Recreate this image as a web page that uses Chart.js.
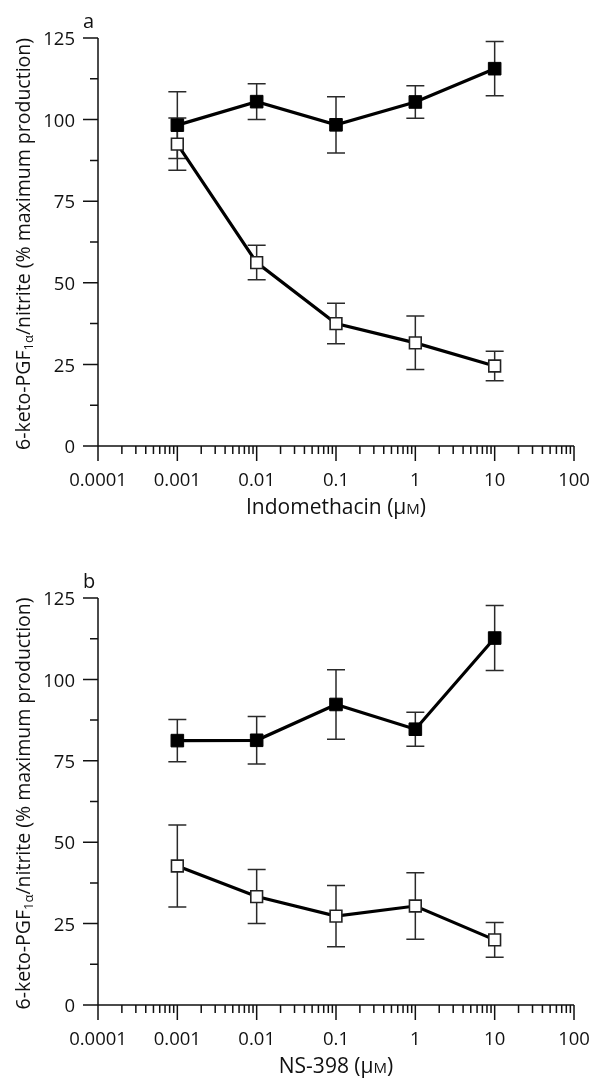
<!DOCTYPE html>
<html lang="en">
<head>
  <meta charset="UTF-8">
  <title>6-keto-PGF1α/nitrite vs inhibitor</title>
  <script src="https://cdn.jsdelivr.net/npm/chart.js"></script>
  <style>
    body {
      margin: 0;
      background: #fff;
    }
    canvas {
      display: block;
    }
  </style>
</head>
<body>
  <canvas id="chartA" width="591" height="540"></canvas>
  <canvas id="chartB" width="591" height="539"></canvas>

  <script>
    // Doses (µM), same for both panels
    const doses = [0.001, 0.01, 0.1, 1, 10];

    // Panel a: indomethacin
    const indoFilled = [98.3, 105.5, 98.4, 105.4, 115.6];
    const indoFilledErr = [10.2, 5.5, 8.6, 5.0, 8.3];
    const indoOpen = [92.5, 56.2, 37.5, 31.6, 24.5];
    const indoOpenErr = [8.0, 5.3, 6.2, 8.2, 4.5];

    // Panel b: NS-398
    const nsFilled = [81.2, 81.3, 92.3, 84.7, 112.7];
    const nsFilledErr = [6.5, 7.3, 10.7, 5.2, 10.0];
    const nsOpen = [42.7, 33.3, 27.3, 30.4, 20.0];
    const nsOpenErr = [12.6, 8.3, 9.4, 10.2, 5.3];

    // Axis ticks
    const xTickValues = [0.0001, 0.001, 0.01, 0.1, 1, 10, 100];
    const xTickLabels = ['0.0001', '0.001', '0.01', '0.1', '1', '10', '100'];
    const yTickValues = [0, 25, 50, 75, 100, 125];
    const yMinorValues = [12.5, 37.5, 62.5, 87.5, 112.5];

    const FONT = "'Open Sans', 'DejaVu Sans', sans-serif";
    const INK = '#111';

    // draw a row of text pieces (for subscripts / small caps)
    function drawRuns(ctx, runs, cx, baseY) {
      let total = 0;
      runs.forEach(r => {
        ctx.font = r.size + 'px ' + FONT;
        r.w = ctx.measureText(r.t).width;
        total += r.w;
      });
      let x = cx - total / 2;
      ctx.textAlign = 'left';
      ctx.textBaseline = 'alphabetic';
      runs.forEach(r => {
        ctx.font = r.size + 'px ' + FONT;
        ctx.fillText(r.t, x, baseY + (r.dy || 0));
        x += r.w;
      });
    }

    // error bars under the markers
    const errorBarPlugin = {
      id: 'errorBars',
      beforeDatasetsDraw(chart, args, opts) {
        const ctx = chart.ctx;
        const xs = chart.scales.x, ys = chart.scales.y;
        ctx.save();
        ctx.strokeStyle = '#2a2a2a';
        ctx.lineWidth = 1.5;
        chart.data.datasets.forEach((ds, i) => {
          const errs = opts.errs[i];
          ds.data.forEach((p, j) => {
            const px = xs.getPixelForValue(p.x);
            const top = ys.getPixelForValue(p.y + errs[j]);
            const bot = ys.getPixelForValue(p.y - errs[j]);
            ctx.beginPath();
            ctx.moveTo(px, top); ctx.lineTo(px, bot);
            ctx.moveTo(px - 9, top); ctx.lineTo(px + 9, top);
            ctx.moveTo(px - 9, bot); ctx.lineTo(px + 9, bot);
            ctx.stroke();
          });
        });
        ctx.restore();
      }
    };

    // axis lines, major/minor ticks, titles and panel letter
    const axesPlugin = {
      id: 'plotAxes',
      afterDraw(chart, args, opts) {
        const ctx = chart.ctx;
        const xs = chart.scales.x, ys = chart.scales.y;
        const x0 = xs.getPixelForValue(xTickValues[0]);
        const x1 = xs.getPixelForValue(xTickValues[xTickValues.length - 1]);
        const y0 = ys.getPixelForValue(yTickValues[0]);
        const y1 = ys.getPixelForValue(yTickValues[yTickValues.length - 1]);
        ctx.save();
        ctx.strokeStyle = INK;
        ctx.lineWidth = 1.5;
        ctx.beginPath();
        ctx.moveTo(x0, y0); ctx.lineTo(x1, y0);
        ctx.moveTo(x0, y0); ctx.lineTo(x0, y1);
        yTickValues.forEach(v => {
          const p = ys.getPixelForValue(v);
          ctx.moveTo(x0 - 15, p); ctx.lineTo(x0, p);
        });
        yMinorValues.forEach(v => {
          const p = ys.getPixelForValue(v);
          ctx.moveTo(x0 - 8, p); ctx.lineTo(x0, p);
        });
        xTickValues.forEach((v, k) => {
          const p = xs.getPixelForValue(v);
          ctx.moveTo(p, y0); ctx.lineTo(p, y0 + 15);
          if (k < xTickValues.length - 1) {
            for (let m = 2; m <= 9; m++) {
              const q = xs.getPixelForValue(v * m);
              ctx.moveTo(q, y0); ctx.lineTo(q, y0 + 8);
            }
          }
        });
        ctx.stroke();

        ctx.fillStyle = INK;
        // x title
        drawRuns(ctx, [
          { t: opts.xTitle + ' (\u03bc', size: 21 },
          { t: 'M', size: 15 },
          { t: ')', size: 21 }
        ], (x0 + x1) / 2, y0 + 68);

        // y title, rotated
        ctx.save();
        ctx.translate(30, (y0 + y1) / 2 + 2);
        ctx.rotate(-Math.PI / 2);
        drawRuns(ctx, [
          { t: '6-keto-PGF', size: 19.5 },
          { t: '1\u03b1', size: 13, dy: 3 },
          { t: '/nitrite (% maximum production)', size: 19.5 }
        ], 0, 0);
        ctx.restore();

        // panel letter
        ctx.font = '20px ' + FONT;
        ctx.textAlign = 'left';
        ctx.textBaseline = 'alphabetic';
        ctx.fillText(opts.letter, x0 - 15, y1 - 10);
        ctx.restore();
      }
    };

    function makeChart(id, filled, filledErr, open, openErr, xTitle, letter, topPad, xHeight) {
      const ctx = document.getElementById(id).getContext('2d');
      return new Chart(ctx, {
        type: 'line',
        data: {
          datasets: [
            {
              data: doses.map((d, i) => ({ x: d, y: filled[i] })),
              borderColor: '#000',
              borderWidth: 3.2,
              pointStyle: 'rect',
              pointRadius: 8.9,
              pointBackgroundColor: '#000',
              pointBorderColor: '#000',
              pointBorderWidth: 1,
              tension: 0
            },
            {
              data: doses.map((d, i) => ({ x: d, y: open[i] })),
              borderColor: '#000',
              borderWidth: 3.2,
              pointStyle: 'rect',
              pointRadius: 8.3,
              pointBackgroundColor: '#fff',
              pointBorderColor: '#222',
              pointBorderWidth: 1.6,
              tension: 0
            }
          ]
        },
        options: {
          responsive: false,
          animation: false,
          layout: { padding: { top: topPad, right: 17, left: 0, bottom: 0 } },
          plugins: {
            legend: { display: false },
            tooltip: { enabled: false },
            errorBars: { errs: [filledErr, openErr] },
            plotAxes: { xTitle: xTitle, letter: letter }
          },
          scales: {
            x: {
              type: 'logarithmic',
              min: 0.0001,
              max: 100,
              grid: { display: false, drawTicks: false },
              border: { display: false },
              afterBuildTicks: scale => {
                scale.ticks = xTickValues.map(v => ({ value: v, major: true }));
              },
              afterFit: scale => {
                scale.height = xHeight;
                scale.paddingLeft = 0;
                scale.paddingRight = 0;
              },
              ticks: {
                autoSkip: false,
                maxRotation: 0,
                padding: 24,
                color: INK,
                font: { family: FONT, size: 18.5 },
                callback: (value, index) => xTickLabels[index]
              }
            },
            y: {
              min: 0,
              max: 125,
              grid: { display: false, drawTicks: false },
              border: { display: false },
              afterBuildTicks: scale => {
                scale.ticks = yTickValues.map(v => ({ value: v }));
              },
              afterFit: scale => {
                scale.width = 98;
                scale.paddingTop = 0;
                scale.paddingBottom = 0;
              },
              ticks: {
                padding: 23,
                labelOffset: 2,
                color: INK,
                font: { family: FONT, size: 18.5 }
              }
            }
          }
        },
        plugins: [errorBarPlugin, axesPlugin]
      });
    }

    makeChart('chartA', indoFilled, indoFilledErr, indoOpen, indoOpenErr, 'Indomethacin', 'a', 38, 94);
    makeChart('chartB', nsFilled, nsFilledErr, nsOpen, nsOpenErr, 'NS-398', 'b', 58, 74);
  </script>
</body>
</html>
